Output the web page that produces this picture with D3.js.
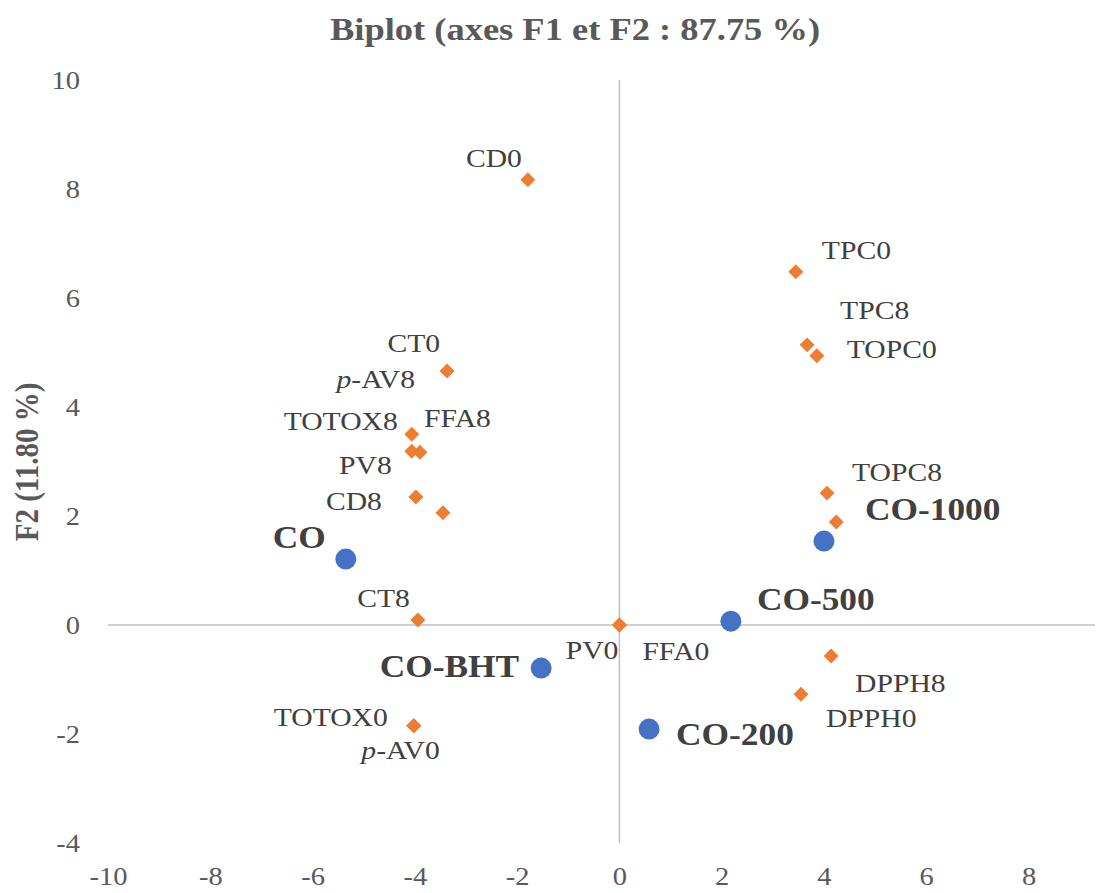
<!DOCTYPE html>
<html>
<head>
<meta charset="utf-8">
<script src="https://cdn.jsdelivr.net/npm/d3@7"></script>
<style>
  body { margin: 0; background: #fff; }
  svg text { font-family: "Liberation Serif", "Times New Roman", serif; }
</style>
</head>
<body>
<div id="chart"></div>
<script>
// variables (orange diamonds)
var varNames = ["CD0", "TPC0", "TPC8", "TOPC0", "CT0", "p-AV8", "TOTOX8", "FFA8", "PV8", "CD8",
                "TOPC8", "", "CT8", "PV0", "FFA0", "DPPH8", "DPPH0", "TOTOX0", "p-AV0"];
var varF1 = [-1.79, 3.45, 3.67, 3.86, -3.37, -3.45, -4.06, -3.90, -4.06, -3.98,
             4.06, 4.24, -3.94, 0.00, 0.00, 4.14, 3.55, -4.02, -4.02];
var varF2 = [8.17, 6.48, 5.14, 4.94, 4.66, 2.06, 3.50, 3.17, 3.19, 2.35,
             2.42, 1.89, 0.09, 0.00, 0.00, -0.57, -1.27, -1.85, -1.85];

// observations (blue circles)
var obsNames = ["CO", "CO-1000", "CO-500", "CO-BHT", "CO-200"];
var obsF1 = [-5.35, 4.00, 2.18, -1.53, 0.58];
var obsF2 = [1.21, 1.54, 0.07, -0.79, -1.91];

var xTicks = [-10, -8, -6, -4, -2, 0, 2, 4, 6, 8];
var yTicks = [-4, -2, 0, 2, 4, 6, 8, 10];

var titleText = "Biplot (axes F1 et F2 : 87.75 %)";
var yTitle = "F2 (11.80 %)";

// where each label sits relative to its point (px): dx, dy to baseline, anchor
var labelPos = {
    "CD0": [-6, -13, "end"], "TPC0": [26, -13, "start"], "TPC8": [33, -26, "start"],
    "TOPC0": [30, 2, "start"], "CT0": [-7, -19, "end"], "p-AV8": [-28, -125, "end"],
    "TOTOX8": [-14, -4, "end"], "FFA8": [4, -25, "start"], "PV8": [-20, 23, "end"],
    "CD8": [-34, 13, "end"], "TOPC8": [25, -12, "start"], "CT8": [-8, -13, "end"],
    "PV0": [-1, 34, "end"], "FFA0": [23, 35, "start"], "DPPH8": [24, 36, "start"],
    "DPPH0": [25, 33, "start"], "TOTOX0": [-26, 0, "end"], "p-AV0": [26, 33, "end"],
    "CO": [-20, -11, "end"], "CO-1000": [41, -21, "start"], "CO-500": [26, -11, "start"],
    "CO-BHT": [-22, 9, "end"], "CO-200": [27, 16, "start"]
};

var width = 1097, height = 893;
var SX = 1.14; // text in the picture is a bit wider than plain Times

var svg = d3.select("#chart").append("svg")
    .attr("width", width)
    .attr("height", height);

var x = d3.scaleLinear().domain([-10, 9.3]).range([108, 1095]);
var y = d3.scaleLinear().domain([-4, 10]).range([843, 80]);

// put a text at (px, py) stretched horizontally
function stretched(sel, px, py) {
    return sel.attr("transform", "translate(" + px + "," + py + ") scale(" + SX + ",1)");
}

// zero lines
svg.append("line")
    .attr("x1", x(0)).attr("x2", x(0))
    .attr("y1", y(10)).attr("y2", y(-4))
    .attr("stroke", "#bfbfbf").attr("stroke-width", 1.5);
svg.append("line")
    .attr("x1", x(-10)).attr("x2", x(9.3))
    .attr("y1", y(0)).attr("y2", y(0))
    .attr("stroke", "#bfbfbf").attr("stroke-width", 1.5);

// axes, just the labels (plain hyphen for negatives, like the original)
var xAxis = svg.append("g")
    .attr("transform", "translate(0,867)")
    .call(d3.axisBottom(x).tickValues(xTicks).tickFormat(d => String(d)).tickSize(0).tickPadding(0));
var yAxis = svg.append("g")
    .attr("transform", "translate(80,0)")
    .call(d3.axisLeft(y).tickValues(yTicks).tickFormat(d => String(d)).tickSize(0).tickPadding(0));
svg.selectAll(".domain").remove();

xAxis.selectAll(".tick text")
    .attr("font-family", null).attr("y", 0).attr("dy", "0.71em")
    .attr("font-size", 25).attr("fill", "#595959")
    .attr("transform", "scale(" + SX + ",1)");
yAxis.selectAll(".tick text")
    .attr("font-family", null).attr("x", 0)
    .attr("font-size", 25).attr("fill", "#595959")
    .attr("transform", "scale(" + SX + ",1)");

// title
stretched(svg.append("text"), 575, 40)
    .attr("text-anchor", "middle")
    .attr("font-size", 32)
    .attr("font-weight", "bold")
    .attr("fill", "#595959")
    .text(titleText);

// y axis title
svg.append("text")
    .attr("transform", "translate(38,462) scale(" + SX + ",1) rotate(-90)")
    .attr("text-anchor", "middle")
    .attr("font-size", 29)
    .attr("font-weight", "bold")
    .attr("fill", "#595959")
    .text(yTitle);

// variable diamonds
var variables = varNames.map(function(n, i) { return {name: n, f1: varF1[i], f2: varF2[i]}; });
var observations = obsNames.map(function(n, i) { return {name: n, f1: obsF1[i], f2: obsF2[i]}; });

svg.selectAll(".var")
    .data(variables)
    .enter()
    .append("path")
    .attr("class", "var")
    .attr("d", d3.symbol().type(d3.symbolSquare).size(112))
    .attr("transform", d => "translate(" + x(d.f1) + "," + y(d.f2) + ") rotate(45)")
    .attr("fill", "#ed7d31");

svg.selectAll(".obs")
    .data(observations)
    .enter()
    .append("circle")
    .attr("class", "obs")
    .attr("cx", d => x(d.f1))
    .attr("cy", d => y(d.f2))
    .attr("r", 10.5)
    .attr("fill", "#4472c4");

// variable labels
variables.filter(d => d.name !== "").forEach(function(d) {
    var p = labelPos[d.name];
    var t = stretched(svg.append("text"), x(d.f1) + p[0], y(d.f2) + p[1])
        .attr("text-anchor", p[2])
        .attr("font-size", 26)
        .attr("fill", "#404040");
    if (d.name.indexOf("p-") === 0) {
        t.append("tspan").attr("font-style", "italic").text("p");
        t.append("tspan").text(d.name.slice(1));
    } else {
        t.text(d.name);
    }
});

// observation labels
observations.forEach(function(d) {
    var p = labelPos[d.name];
    stretched(svg.append("text"), x(d.f1) + p[0], y(d.f2) + p[1])
        .attr("text-anchor", p[2])
        .attr("font-size", 31)
        .attr("font-weight", "bold")
        .attr("fill", "#404040")
        .text(d.name);
});
</script>
</body>
</html>
